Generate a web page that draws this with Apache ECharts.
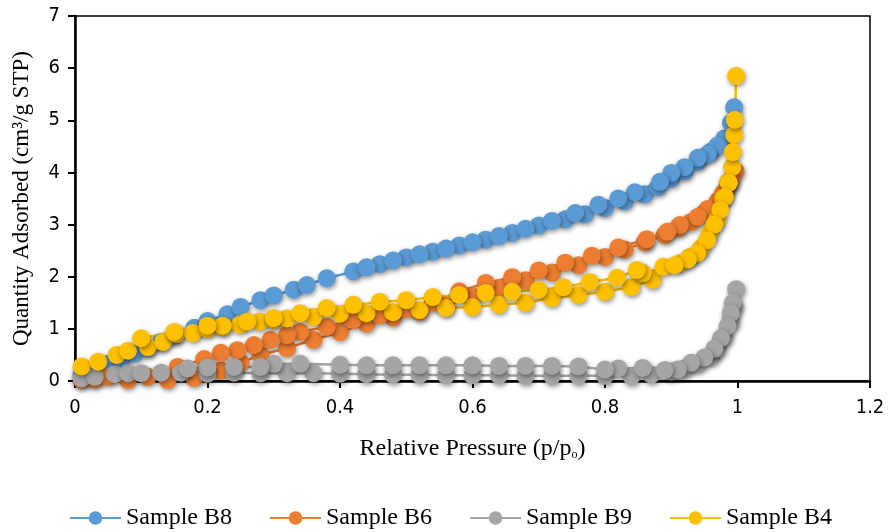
<!DOCTYPE html>
<html>
<head>
<meta charset="utf-8">
<script src="https://cdn.jsdelivr.net/npm/echarts@6/dist/echarts.min.js"></script>
<style>
  html, body { margin: 0; padding: 0; background: #fff; }
  #chart { width: 888px; height: 532px; }
</style>
</head>
<body>
<div id="chart"></div>
<script>
// axis ticks
const xTicks = { min: 0, max: 1.2, step: 0.2 };
const yTicks = { min: 0, max: 7, step: 1 };

const seriesNames = ['Sample B8', 'Sample B6', 'Sample B9', 'Sample B4'];
const seriesColors = ['#5B9BD5', '#ED7D31', '#A5A5A5', '#FFC000'];

// [p/p0, quantity] - adsorption branch then desorption branch
const sampleB8 = [
    [0.01, 0.12], [0.03, 0.22], [0.05, 0.33], [0.07, 0.43], [0.09, 0.53], [0.11, 0.63],
    [0.13, 0.75], [0.15, 0.87], [0.18, 1.02], [0.20, 1.15], [0.23, 1.28], [0.25, 1.42],
    [0.28, 1.55], [0.30, 1.64], [0.33, 1.75], [0.35, 1.84], [0.38, 1.97], [0.42, 2.10],
    [0.46, 2.24], [0.50, 2.37], [0.54, 2.48], [0.58, 2.60], [0.62, 2.71], [0.66, 2.84],
    [0.70, 2.98], [0.74, 3.10], [0.77, 3.20], [0.80, 3.32], [0.83, 3.45], [0.86, 3.58],
    [0.88, 3.72], [0.90, 3.88], [0.92, 4.02], [0.94, 4.20], [0.96, 4.40], [0.98, 4.65],
    [0.995, 5.25],
    [0.99, 4.95], [0.97, 4.52], [0.955, 4.35], [0.94, 4.28], [0.92, 4.10], [0.90, 3.99],
    [0.883, 3.82], [0.845, 3.62], [0.82, 3.50], [0.79, 3.38], [0.755, 3.22], [0.72, 3.07],
    [0.68, 2.92], [0.64, 2.78], [0.60, 2.66], [0.56, 2.54], [0.52, 2.43], [0.48, 2.31],
    [0.44, 2.18]
];

const sampleB6 = [
    [0.01, 0.02], [0.03, 0.03], [0.05, 0.08], [0.08, 0.02], [0.11, 0.08], [0.14, 0.02],
    [0.18, 0.06], [0.22, 0.20], [0.25, 0.35], [0.28, 0.50], [0.32, 0.63], [0.36, 0.79],
    [0.40, 0.94], [0.44, 1.10], [0.48, 1.22], [0.52, 1.33], [0.56, 1.45], [0.60, 1.62],
    [0.64, 1.78], [0.68, 1.93], [0.72, 2.08], [0.76, 2.22], [0.80, 2.38], [0.83, 2.52],
    [0.86, 2.66], [0.89, 2.80], [0.91, 2.93], [0.93, 3.05], [0.95, 3.22], [0.97, 3.45],
    [0.985, 3.70], [0.997, 4.02],
    [0.99, 3.85], [0.978, 3.60], [0.955, 3.30], [0.94, 3.15], [0.913, 2.99], [0.894, 2.86],
    [0.863, 2.72], [0.82, 2.56], [0.78, 2.40], [0.74, 2.27], [0.70, 2.12], [0.66, 1.99],
    [0.62, 1.88], [0.58, 1.72], [0.54, 1.50], [0.50, 1.38], [0.46, 1.26], [0.42, 1.17],
    [0.38, 1.04], [0.34, 0.94], [0.32, 0.88], [0.295, 0.79], [0.27, 0.69], [0.245, 0.59],
    [0.22, 0.54], [0.195, 0.42], [0.155, 0.27]
];

const sampleB9 = [
    [0.01, 0.05], [0.03, 0.08], [0.06, 0.13], [0.08, 0.15], [0.10, 0.15], [0.13, 0.16],
    [0.16, 0.16], [0.20, 0.14], [0.24, 0.16], [0.28, 0.15], [0.32, 0.15], [0.36, 0.15],
    [0.40, 0.14], [0.44, 0.13], [0.48, 0.12], [0.52, 0.12], [0.56, 0.11], [0.60, 0.11],
    [0.64, 0.11], [0.68, 0.10], [0.72, 0.10], [0.76, 0.10], [0.80, 0.10], [0.84, 0.09],
    [0.87, 0.12], [0.90, 0.18], [0.92, 0.24], [0.94, 0.33], [0.96, 0.47], [0.97, 0.62],
    [0.98, 0.85], [0.99, 1.15], [0.995, 1.42], [0.998, 1.76],
    [0.993, 1.50], [0.99, 1.30], [0.985, 1.05], [0.975, 0.82], [0.965, 0.62], [0.95, 0.45],
    [0.93, 0.35], [0.91, 0.22], [0.89, 0.21], [0.857, 0.25], [0.82, 0.24], [0.80, 0.22],
    [0.76, 0.28], [0.72, 0.29], [0.68, 0.29], [0.64, 0.29], [0.60, 0.30], [0.56, 0.30],
    [0.52, 0.30], [0.48, 0.30], [0.44, 0.30], [0.40, 0.31], [0.34, 0.33], [0.30, 0.33],
    [0.28, 0.27], [0.24, 0.27], [0.20, 0.26], [0.17, 0.24]
];

const sampleB4 = [
    [0.01, 0.28], [0.035, 0.37], [0.063, 0.50], [0.08, 0.58], [0.11, 0.65], [0.133, 0.75],
    [0.153, 0.90], [0.178, 0.92], [0.20, 1.00], [0.223, 1.04], [0.249, 1.08], [0.279, 1.14],
    [0.30, 1.17], [0.32, 1.20], [0.36, 1.23], [0.40, 1.29], [0.44, 1.30], [0.48, 1.32],
    [0.52, 1.36], [0.56, 1.40], [0.60, 1.42], [0.64, 1.46], [0.68, 1.50], [0.72, 1.59],
    [0.76, 1.65], [0.80, 1.71], [0.84, 1.80], [0.872, 1.94], [0.888, 2.19], [0.913, 2.26],
    [0.928, 2.38], [0.945, 2.55], [0.958, 2.84], [0.969, 3.09], [0.978, 3.50], [0.986, 3.82],
    [0.992, 4.10], [0.995, 4.72], [0.998, 5.85],
    [0.996, 5.01], [0.993, 4.39], [0.987, 3.80], [0.981, 3.53], [0.974, 3.28], [0.965, 3.00],
    [0.954, 2.70], [0.939, 2.45], [0.925, 2.33], [0.905, 2.22], [0.857, 2.07], [0.848, 2.13],
    [0.818, 1.98], [0.777, 1.90], [0.737, 1.80], [0.70, 1.75], [0.66, 1.71], [0.62, 1.69],
    [0.58, 1.65], [0.54, 1.61], [0.50, 1.55], [0.46, 1.52], [0.42, 1.46], [0.38, 1.40],
    [0.34, 1.30], [0.30, 1.21], [0.26, 1.14], [0.223, 1.06], [0.20, 1.06], [0.15, 0.94],
    [0.10, 0.82]
];

const seriesData = [sampleB8, sampleB6, sampleB9, sampleB4];

let chart = echarts.init(document.getElementById('chart'));

const tickFont = 'Liberation Sans Narrow, DejaVu Sans Condensed, sans-serif';
const serifFont = 'Liberation Serif, Times New Roman, serif';

let option = {
    animation: false,
    backgroundColor: '#fff',
    grid: {
        left: 75, right: 18, top: 16, bottom: 151,
        show: true, borderColor: '#000', borderWidth: 1.5
    },
    legend: {
        top: 501,
        left: 64,
        itemWidth: 51,
        itemHeight: 17,
        itemGap: 37,
        textStyle: { fontFamily: serifFont, fontSize: 24, color: '#000' },
        data: seriesNames
    },
    xAxis: {
        type: 'value',
        min: xTicks.min, max: xTicks.max, interval: xTicks.step,
        name: 'Relative Pressure (p/p{s|o})',
        nameLocation: 'middle',
        nameGap: 55,
        nameTextStyle: {
            fontFamily: serifFont, fontSize: 24, color: '#000',
            rich: { s: { fontFamily: serifFont, fontSize: 12, color: '#000', padding: [13, 0, 0, 0] } }
        },
        axisLine: { lineStyle: { color: '#000', width: 2.5 } },
        axisTick: { show: true, length: 7, lineStyle: { color: '#000', width: 2 } },
        splitLine: { show: false },
        axisLabel: {
            margin: 17, color: '#000', fontFamily: tickFont, fontSize: 20,
            formatter: function (v) { return String(+v.toFixed(1)); }
        }
    },
    yAxis: {
        type: 'value',
        min: yTicks.min, max: yTicks.max, interval: yTicks.step,
        name: 'Quantity Adsorbed (cm³/g STP)',
        nameLocation: 'middle',
        nameGap: 42,
        nameTextStyle: { fontFamily: serifFont, fontSize: 23, color: '#000' },
        axisLine: { show: true, lineStyle: { color: '#000', width: 2.5 } },
        axisTick: { show: true, length: 7, lineStyle: { color: '#000', width: 2 } },
        splitLine: { show: false },
        axisLabel: { margin: 15, color: '#000', fontFamily: tickFont, fontSize: 20 }
    },
    series: []
};

for (let i = 0; i < seriesNames.length; i++) {
    option.series.push({
        name: seriesNames[i],
        type: 'line',
        data: seriesData[i],
        symbol: 'circle',
        symbolSize: 18,
        color: seriesColors[i],
        lineStyle: { color: seriesColors[i], width: 2.5 },
        itemStyle: {
            color: seriesColors[i],
            borderColor: seriesColors[i],
            borderWidth: 0,
            shadowColor: 'rgba(0,0,0,0.45)',
            shadowBlur: 5,
            shadowOffsetX: 1,
            shadowOffsetY: 2
        },
        emphasis: { disabled: true }
    });
}

option && chart.setOption(option);
</script>
</body>
</html>
